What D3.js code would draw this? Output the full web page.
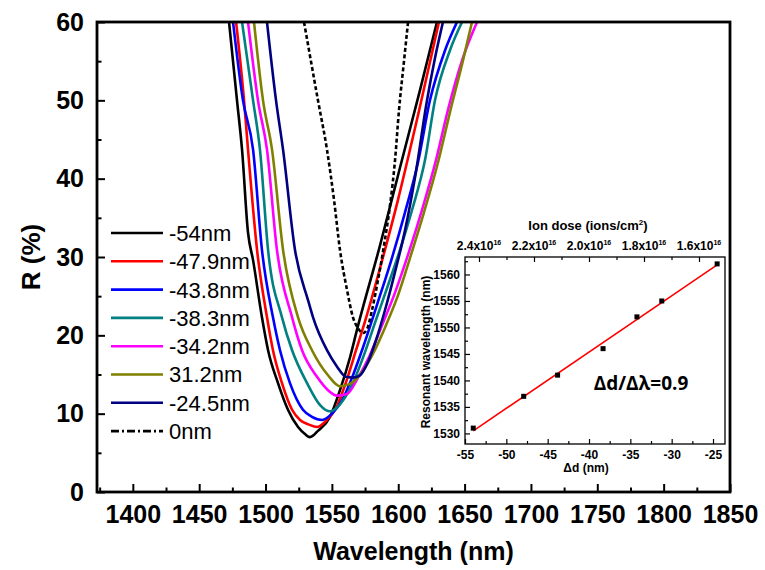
<!DOCTYPE html>
<html>
<head>
<meta charset="utf-8">
<script src="https://cdn.jsdelivr.net/npm/d3@7"></script>
<style>
  html, body { margin: 0; padding: 0; background: #fff; }
  svg { display: block; }
  text { font-family: Arial, "Liberation Sans", sans-serif; fill: #000; }
</style>
</head>
<body>
<svg id="chart" width="765" height="570"></svg>
<script>
// ---------------- DATA ----------------
const seriesLabels = ["-54nm", "-47.9nm", "-43.8nm", "-38.3nm", "-34.2nm", "31.2nm", "-24.5nm", "0nm"];
const seriesColors = ["#000000", "#ff0000", "#0000ff", "#008080", "#ff00ff", "#808000", "#000080", "#000000"];

const wl_54  = [1472.5,1478.5,1482.3,1486.8,1490.6,1497.3,1501.9,1509.4,1516.9,1524.5,1529.7,1533.5,1539.5,1548.6,1556.1,1563.7,1568.9,1586.3,1601.3,1616.4,1629.2];
const R_54   = [60,50,43.7,33.1,29.6,22.3,18.1,13.9,10.5,8.3,7.4,7.0,7.8,9.6,13.0,17.2,20.7,31.5,41.4,51.3,60];

const wl_479 = [1477.8,1483.8,1486.8,1493.6,1501.1,1505.6,1512.4,1520.0,1526.0,1532.8,1538.8,1545.6,1553.1,1560.6,1568.2,1575.7,1586.3,1599.8,1614.9,1630.7];
const R_479  = [60,50,43.7,30.9,22.3,18.1,13.9,10.5,9.2,8.6,8.3,9.1,10.7,14.0,18.1,22.2,28.6,37.3,48.1,60];

const wl_438 = [1475.5,1483.0,1490.6,1497.3,1505.6,1510.9,1518.4,1528.2,1535.0,1542.6,1550.1,1557.6,1565.2,1572.7,1584.0,1595.3,1605.1,1614.9,1623.9,1635.3,1644.3];
const R_438  = [60,50,43.7,30.9,22.3,18.1,13.9,10.5,9.6,9.2,10.0,11.7,14.6,18.1,23.9,29.9,35.7,42.1,50,56.4,60];

const wl_383 = [1482.3,1490.6,1495.8,1501.9,1512.4,1520.0,1531.3,1541.1,1548.6,1556.1,1565.2,1574.2,1583.3,1592.3,1601.3,1610.4,1620.2,1627.7,1639.0,1648.1];
const R_383  = [60,50,43.7,30.9,22.3,18.1,13.9,11.1,10.3,11.2,13.7,17.5,22.0,26.4,30.9,36.0,42.4,50,56.4,60];

const wl_342 = [1486.8,1494.3,1501.1,1508.6,1520.0,1527.5,1538.8,1547.1,1553.9,1561.4,1569.7,1578.7,1587.8,1596.8,1607.4,1617.9,1628.5,1637.5,1648.1,1659.4];
const R_342  = [60,50,43.7,30.9,22.3,18.1,14.7,13.0,12.3,12.5,14.6,17.5,21.3,25.1,30.3,36.0,42.4,48.8,55.1,60];

const wl_312 = [1491.3,1498.1,1504.9,1513.2,1524.5,1535.0,1547.1,1556.1,1563.7,1572.7,1581.7,1590.8,1599.8,1608.9,1619.4,1630.0,1639.0,1648.8,1655.6];
const R_312  = [60,50,43.7,30.9,22.3,18.1,14.9,13.5,13.8,15.3,17.9,21.3,25.1,29.9,35.7,42.1,48.5,55.1,60];

const wl_245 = [1501.1,1507.9,1513.2,1522.2,1532.0,1535.8,1546.3,1553.9,1560.6,1565.2,1571.2,1577.2,1583.3,1590.0,1597.6,1605.1,1612.6,1621.7,1627.7,1633.7];
const R_245  = [60,50,43.7,30.9,24.5,22.3,18.1,16.0,14.7,14.6,14.9,16.6,19.4,23.2,28.1,33.4,40.1,50,55.4,60];

const wl_0   = [1529.0,1539.5,1546.3,1551.6,1556.1,1561.4,1565.9,1569.7,1573.5,1576.5,1580.2,1584.8,1589.3,1593.8,1597.6,1600.6,1604.4,1607.4];
const R_0    = [60,50,43.7,37.3,30.9,25.8,22.3,20.9,20.3,20.8,23.2,27.1,31.5,36.6,42.4,48.8,55.1,60];

const mainXTicks = [1400,1450,1500,1550,1600,1650,1700,1750,1800,1850];
const mainYTicks = [0,10,20,30,40,50,60];

// inset data
const insetDd  = [-54, -47.9, -43.8, -38.3, -34.2, -31.2, -24.5];
const insetRes = [1531, 1537, 1541, 1546, 1552, 1555, 1562];
const insetXTicks = [-55,-50,-45,-40,-35,-30,-25];
const insetYTicks = [1530,1535,1540,1545,1550,1555,1560];
const doseTicks = [2.4, 2.2, 2.0, 1.8, 1.6];   // x10^16 ions/cm^2

// ---------------- DRAW ----------------
const svg = d3.select("#chart");

const plot = {left: 97, right: 730, top: 22, bottom: 492};
const x = d3.scaleLinear().domain([1373, 1850]).range([plot.left, plot.right]);
const y = d3.scaleLinear().domain([0, 60]).range([plot.bottom, plot.top]);

svg.append("defs").append("clipPath").attr("id", "clipMain")
  .append("rect").attr("x", plot.left).attr("y", plot.top)
  .attr("width", plot.right - plot.left).attr("height", plot.bottom - plot.top);

const wlSets = [wl_54, wl_479, wl_438, wl_383, wl_342, wl_312, wl_245, wl_0];
const RSets  = [R_54, R_479, R_438, R_383, R_342, R_312, R_245, R_0];
const series = wlSets.map((wl, i) => ({
  label: seriesLabels[i], color: seriesColors[i], dashed: i === 7,
  pts: wl.map((w, j) => [w, RSets[i][j]])
}));

const line = d3.line().x(d => x(d[0])).y(d => y(d[1])).curve(d3.curveMonotoneX);
const gCurves = svg.append("g").attr("clip-path", "url(#clipMain)");
series.forEach(s => {
  gCurves.append("path").attr("d", line(s.pts))
    .attr("fill", "none").attr("stroke", s.color)
    .attr("stroke-width", 2.6)
    .attr("stroke-dasharray", s.dashed ? "4,2.5" : null)
    .attr("stroke-linejoin", "round");
});

// axes (inward ticks)
const xAxis = d3.axisBottom(x).tickValues(mainXTicks).tickSize(-8).tickPadding(13).tickFormat(d => String(d));
const gx = svg.append("g").attr("transform", `translate(0,${plot.bottom})`).call(xAxis);
gx.select(".domain").remove();
gx.selectAll(".tick line").attr("stroke", "#000").attr("stroke-width", 2);
gx.selectAll("text").style("font-weight", "bold").style("font-size", "25px");

const xMinor = d3.axisBottom(x).tickValues(d3.range(1375, 1850, 50)).tickSize(-4.5).tickFormat("");
const gxm = svg.append("g").attr("transform", `translate(0,${plot.bottom})`).call(xMinor);
gxm.select(".domain").remove();
gxm.selectAll(".tick line").attr("stroke", "#000").attr("stroke-width", 2);

const yAxis = d3.axisLeft(y).tickValues(mainYTicks).tickSize(-8).tickPadding(13).tickFormat(d => String(d));
const gy = svg.append("g").attr("transform", `translate(${plot.left},0)`).call(yAxis);
gy.select(".domain").remove();
gy.selectAll(".tick line").attr("stroke", "#000").attr("stroke-width", 2);
gy.selectAll("text").style("font-weight", "bold").style("font-size", "25px");

const yMinor = d3.axisLeft(y).tickValues(d3.range(5, 60, 10)).tickSize(-4.5).tickFormat("");
const gym = svg.append("g").attr("transform", `translate(${plot.left},0)`).call(yMinor);
gym.select(".domain").remove();
gym.selectAll(".tick line").attr("stroke", "#000").attr("stroke-width", 2);

// frame
svg.append("rect").attr("x", plot.left).attr("y", plot.top)
  .attr("width", plot.right - plot.left).attr("height", plot.bottom - plot.top)
  .attr("fill", "none").attr("stroke", "#000").attr("stroke-width", 2.8);

// axis titles
svg.append("text").attr("x", (plot.left + plot.right) / 2).attr("y", 560)
  .attr("text-anchor", "middle").style("font-weight", "bold").style("font-size", "25px")
  .text("Wavelength (nm)");
svg.append("text").attr("transform", `translate(40,${(plot.top + plot.bottom) / 2}) rotate(-90)`)
  .attr("text-anchor", "middle").style("font-weight", "bold").style("font-size", "26px")
  .text("R (%)");

// legend
const legend = svg.append("g");
series.forEach((s, i) => {
  const yy = 233 + i * 28.3;
  legend.append("line").attr("x1", 111).attr("x2", 163).attr("y1", yy).attr("y2", yy)
    .attr("stroke", s.color).attr("stroke-width", 2.6)
    .attr("stroke-dasharray", s.dashed ? "8,3,2,3" : null);
  legend.append("text").attr("x", 169).attr("y", yy).attr("dy", "0.36em")
    .style("font-size", "22px").text(s.label);
});

// ---------------- INSET ----------------
const ib = {left: 465, right: 725, top: 257, bottom: 444};
const ix = d3.scaleLinear().domain([-55, -23.55]).range([ib.left, ib.right]);
const iy = d3.scaleLinear().domain([1528, 1563.3]).range([ib.bottom, ib.top]);
const idose = d3.scaleLinear().domain([2.4, 1.6]).range([479, 699]);
const gi = svg.append("g");

function styleAxis(g, fs) {
  g.select(".domain").remove();
  g.selectAll(".tick line").attr("stroke", "#000").attr("stroke-width", 1.2);
  g.selectAll("text").style("font-weight", "bold").style("font-size", fs);
}
const ixA = gi.append("g").attr("transform", `translate(0,${ib.bottom})`)
  .call(d3.axisBottom(ix).tickValues(insetXTicks).tickSize(-5).tickPadding(6).tickFormat(d => String(d)));
styleAxis(ixA, "12px");
const ixm = gi.append("g").attr("transform", `translate(0,${ib.bottom})`)
  .call(d3.axisBottom(ix).tickValues(d3.range(-52.5, -23.6, 5)).tickSize(-3).tickFormat(""));
styleAxis(ixm, "12px");

const iyA = gi.append("g").attr("transform", `translate(${ib.left},0)`)
  .call(d3.axisLeft(iy).tickValues(insetYTicks).tickSize(-5).tickPadding(5).tickFormat(d => String(d)));
styleAxis(iyA, "12px");
const iym = gi.append("g").attr("transform", `translate(${ib.left},0)`)
  .call(d3.axisLeft(iy).tickValues(d3.range(1532.5, 1563, 5)).tickSize(-3).tickFormat(""));
styleAxis(iym, "12px");

const itA = gi.append("g").attr("transform", `translate(0,${ib.top})`)
  .call(d3.axisTop(idose).tickValues(doseTicks).tickSize(-5).tickFormat(""));
styleAxis(itA, "12px");
const itm = gi.append("g").attr("transform", `translate(0,${ib.top})`)
  .call(d3.axisTop(idose).tickValues([2.3, 2.1, 1.9, 1.7]).tickSize(-3).tickFormat(""));
styleAxis(itm, "12px");
// dose labels with superscripts
doseTicks.forEach(d => {
  const t = gi.append("text").attr("x", idose(d)).attr("y", ib.top - 7)
    .attr("text-anchor", "middle").style("font-weight", "bold").style("font-size", "12px");
  t.append("tspan").text(d.toFixed(1) + "x10");
  t.append("tspan").attr("dy", -5).style("font-size", "7px").text("16");
});

gi.append("rect").attr("x", ib.left).attr("y", ib.top)
  .attr("width", ib.right - ib.left).attr("height", ib.bottom - ib.top)
  .attr("fill", "none").attr("stroke", "#000").attr("stroke-width", 1.3);

// fit line (least squares on the data)
const mx = d3.mean(insetDd), my = d3.mean(insetRes);
let sxy = 0, sxx = 0;
insetDd.forEach((v, i) => { sxy += (v - mx) * (insetRes[i] - my); sxx += (v - mx) * (v - mx); });
const slope = sxy / sxx, icpt = my - slope * mx;
const xs = d3.extent(insetDd);
gi.append("line").attr("x1", ix(xs[0])).attr("y1", iy(icpt + slope * xs[0]))
  .attr("x2", ix(xs[1])).attr("y2", iy(icpt + slope * xs[1]))
  .attr("stroke", "#ff0000").attr("stroke-width", 1.6);

gi.selectAll("rect.pt").data(insetDd).enter().append("rect").attr("class", "pt")
  .attr("x", d => ix(d) - 2.5).attr("y", (d, i) => iy(insetRes[i]) - 2.5)
  .attr("width", 5).attr("height", 5).attr("fill", "#000");

// inset titles
const it1 = gi.append("text").attr("x", 588).attr("y", 230).attr("text-anchor", "middle")
  .style("font-weight", "bold").style("font-size", "13px");
it1.append("tspan").text("Ion dose (ions/cm");
it1.append("tspan").attr("dy", -5).style("font-size", "8px").text("2");
it1.append("tspan").attr("dy", 5).text(")");

gi.append("text").attr("x", 586).attr("y", 472).attr("text-anchor", "middle")
  .style("font-weight", "bold").style("font-size", "12px").text("Δd (nm)");
gi.append("text").attr("transform", `translate(430,352) rotate(-90)`).attr("text-anchor", "middle")
  .style("font-weight", "bold").style("font-size", "12px").text("Resonant wavelength (nm)");
gi.append("text").attr("x", 641).attr("y", 390).attr("text-anchor", "middle")
  .style("font-weight", "bold").style("font-size", "19px")
  .style("font-family", "'Open Sans',Arial,sans-serif").text("Δd/Δλ=0.9");
</script>
</body>
</html>
